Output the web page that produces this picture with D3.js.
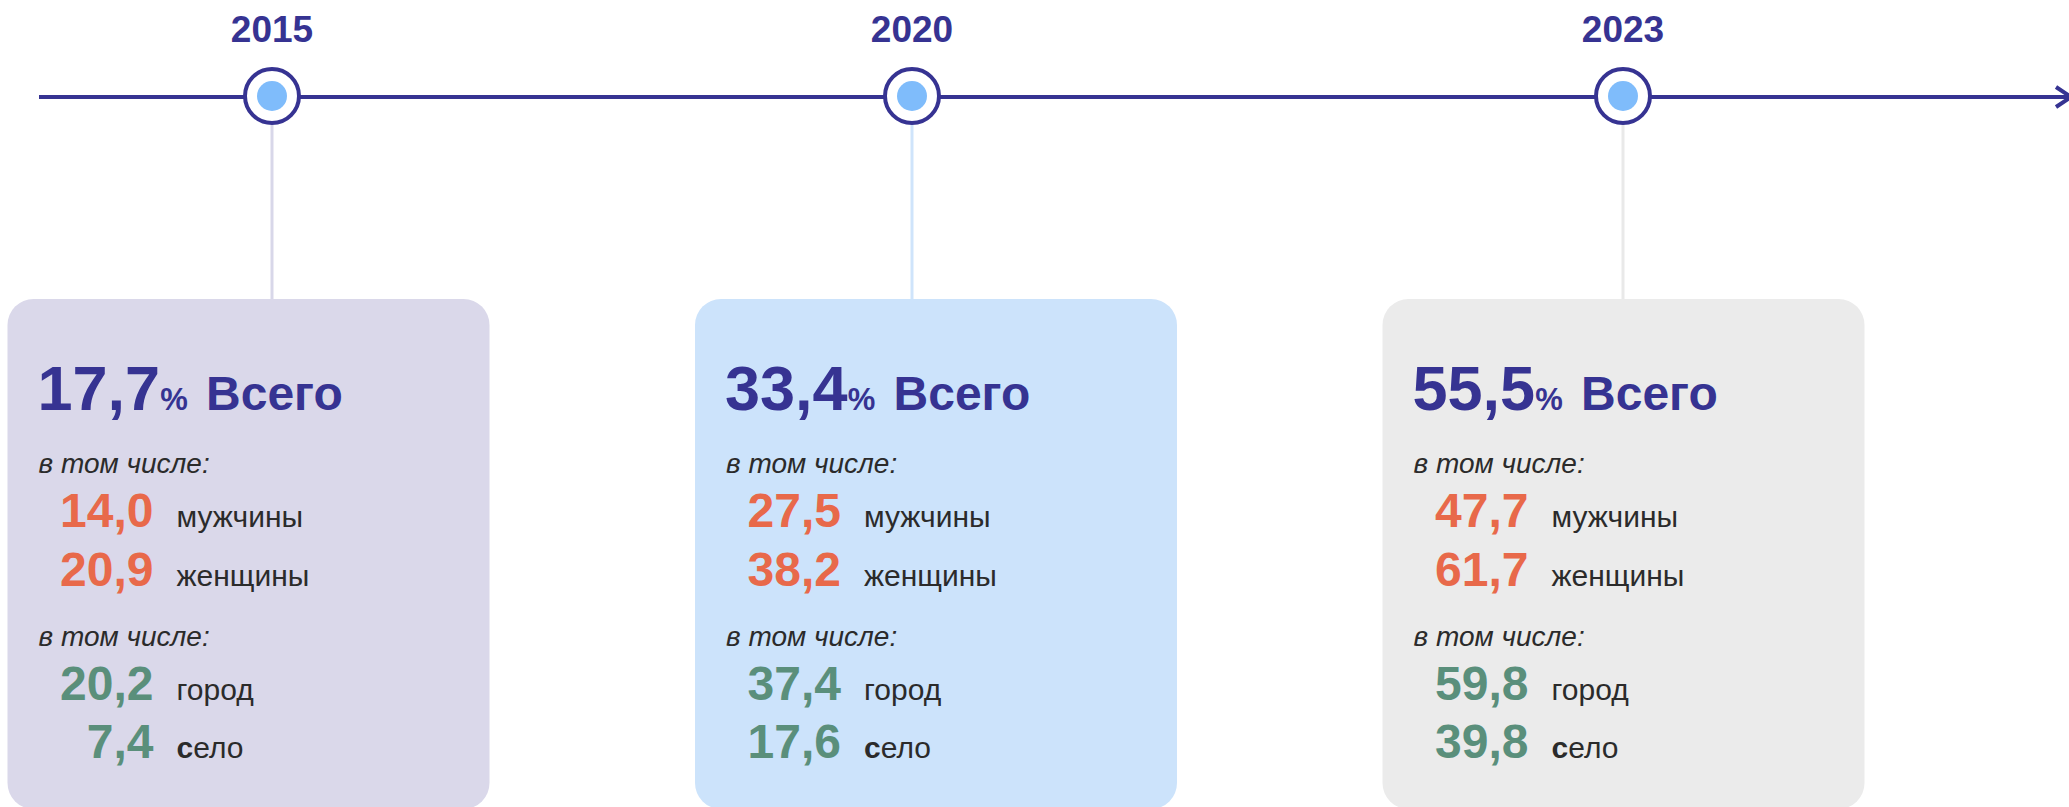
<!DOCTYPE html>
<html>
<head>
<meta charset="utf-8">
<script src="https://cdn.jsdelivr.net/npm/d3@7"></script>
<style>
  body { margin: 0; background: #ffffff; }
  svg { display: block; font-family: "Liberation Sans", Arial, sans-serif; }
</style>
</head>
<body>
<div id="timeline"></div>
<script>
// data
var years = ["2015", "2020", "2023"];
var totals = [17.7, 33.4, 55.5];
var men = [14.0, 27.5, 47.7];
var women = [20.9, 38.2, 61.7];
var city = [20.2, 37.4, 59.8];
var village = [7.4, 17.6, 39.8];

var totalLabel = "Всего";
var subLabel = "в том числе:";
var rowLabels = ["мужчины", "женщины", "город", "село"];

//setup: formating
var svgWidth = 2069;
var svgHeight = 807;
var lineY = 97;
var boxTop = 299;
var boxWidth = 482;

var colors = {
  indigo: "#363392",
  orange: "#e8694a",
  green: "#5a8f7b",
  text: "#2b2b2b",
  dot: "#7fbcfb"
};
var boxFill = ["#dad8ea", "#cce3fb", "#ebebeb"];
var stemFill = ["#d8d7e9", "#cfe4fb", "#e9e9e9"];

var svg = d3.select("#timeline")
  .append("svg")
  .attr("width", svgWidth)
  .attr("height", svgHeight);

// comma as decimal mark
var ru = d3.formatLocale({decimal: ",", thousands: " ", grouping: [3], currency: ["", ""]});
var fmt = ru.format(".1f");

// boxes sit on equal steps, markers a bit off centre
var boxScale = d3.scalePoint()
  .domain(years)
  .range([248.5, 1623.5]);
var markerScale = d3.scaleOrdinal()
  .domain(years)
  .range([272, 912, 1623]);

var rows = years.map(function(y, i) {
  return {
    year: y,
    i: i,
    total: totals[i],
    values: [
      {v: men[i], label: rowLabels[0], color: colors.orange},
      {v: women[i], label: rowLabels[1], color: colors.orange},
      {v: city[i], label: rowLabels[2], color: colors.green},
      {v: village[i], label: rowLabels[3], color: colors.green}
    ]
  };
});

// main line with open arrow
svg.append("line")
  .attr("x1", 39)
  .attr("x2", svgWidth)
  .attr("y1", lineY)
  .attr("y2", lineY)
  .attr("stroke", colors.indigo)
  .attr("stroke-width", 4);
svg.append("path")
  .attr("d", `M${svgWidth - 13},${lineY - 10} L${svgWidth + 2},${lineY} L${svgWidth - 13},${lineY + 10}`)
  .attr("fill", "none")
  .attr("stroke", colors.indigo)
  .attr("stroke-width", 4);

// stems from marker down to box
svg.selectAll(".stem")
  .data(rows)
  .enter()
  .append("line")
  .attr("class", "stem")
  .attr("x1", d => markerScale(d.year))
  .attr("x2", d => markerScale(d.year))
  .attr("y1", lineY + 28)
  .attr("y2", boxTop + 2)
  .attr("stroke", d => stemFill[d.i])
  .attr("stroke-width", 3);

// markers
var markers = svg.selectAll(".marker")
  .data(rows)
  .enter()
  .append("g")
  .attr("class", "marker")
  .attr("transform", d => `translate(${markerScale(d.year)}, ${lineY - 1})`);
markers.append("circle")
  .attr("r", 27)
  .attr("fill", "#ffffff")
  .attr("stroke", colors.indigo)
  .attr("stroke-width", 4);
markers.append("circle")
  .attr("r", 15)
  .attr("fill", colors.dot);
markers.append("text")
  .attr("y", -54)
  .attr("text-anchor", "middle")
  .attr("font-size", 37)
  .attr("font-weight", "bold")
  .attr("fill", colors.indigo)
  .text(d => d.year);

// cards
var cards = svg.selectAll(".card")
  .data(rows)
  .enter()
  .append("g")
  .attr("class", "card")
  .attr("transform", d => `translate(${boxScale(d.year) - boxWidth / 2}, ${boxTop})`);
cards.append("rect")
  .attr("width", boxWidth)
  .attr("height", 510)
  .attr("rx", 26)
  .attr("fill", d => boxFill[d.i]);

// headline: value, % and label
var head = cards.append("text")
  .attr("x", 30)
  .attr("y", 111)
  .attr("font-weight", "bold")
  .attr("fill", colors.indigo);
head.append("tspan")
  .attr("font-size", 63)
  .text(d => fmt(d.total));
head.append("tspan")
  .attr("font-size", 31)
  .text("%");
head.append("tspan")
  .attr("font-size", 48)
  .attr("dx", 5)
  .text(" " + totalLabel);

// "в том числе:" lines
[174, 347].forEach(function(yy) {
  cards.append("text")
    .attr("x", 31)
    .attr("y", yy)
    .attr("font-size", 28)
    .attr("font-style", "italic")
    .attr("fill", colors.text)
    .text(subLabel);
});

// breakdown rows
var rowY = [228, 287, 401, 459];
var items = cards.selectAll(".item")
  .data(d => d.values.map((v, k) => Object.assign({k: k}, v)))
  .enter()
  .append("g")
  .attr("class", "item")
  .attr("transform", d => `translate(0, ${rowY[d.k]})`);
items.append("text")
  .attr("x", 146)
  .attr("text-anchor", "end")
  .attr("font-size", 48)
  .attr("font-weight", "bold")
  .attr("fill", d => d.color)
  .text(d => fmt(d.v));
var lbl = items.append("text")
  .attr("x", 169)
  .attr("font-size", 30)
  .attr("fill", colors.text);
// "село" has its first letter in bold
lbl.append("tspan")
  .attr("font-weight", d => d.k === 3 ? "bold" : "normal")
  .text(d => d.label.slice(0, 1));
lbl.append("tspan")
  .text(d => d.label.slice(1));
</script>
</body>
</html>
